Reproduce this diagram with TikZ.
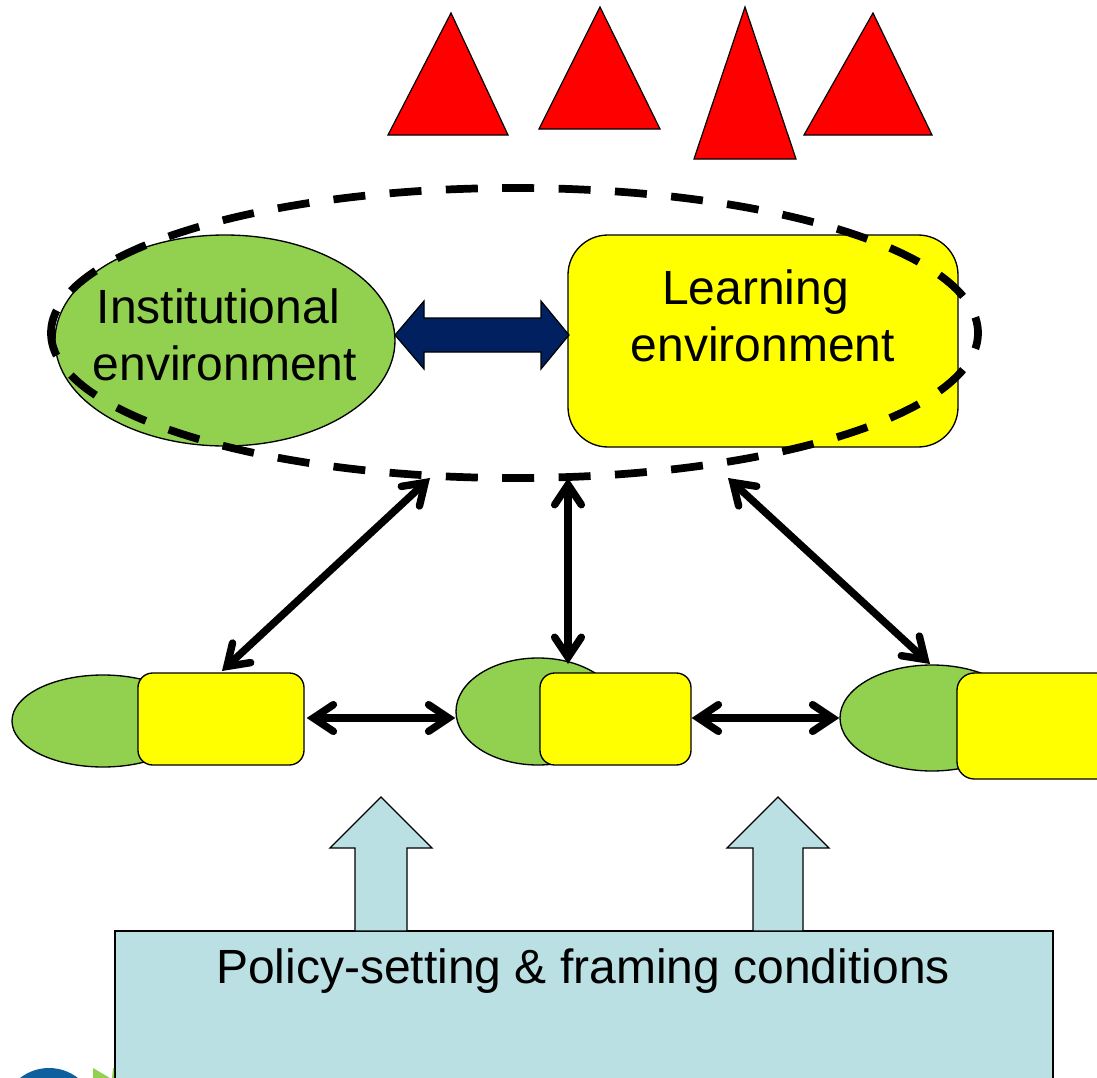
\documentclass[tikz,border=0pt]{standalone}
\usepackage{fontspec}
\setmainfont{Liberation Sans}
\usetikzlibrary{arrows.meta,shapes.geometric}
\definecolor{leaf}{HTML}{92D050}
\definecolor{sun}{HTML}{FFFF00}
\definecolor{navy}{HTML}{002060}
\definecolor{pale}{HTML}{BBE0E3}
\definecolor{globe}{HTML}{0F5F9F}
\def\px{0.75pt}
\tikzset{
  oval/.style={ellipse,draw=black,line width=1pt,fill=leaf,inner sep=0pt},
  panel/.style={rectangle,draw=black,line width=1pt,fill=sun,inner sep=0pt},
  peak/.style={draw=black,line width=0.9pt,fill=red,line join=miter},
  label/.style={inner sep=0pt,align=center,font=\fontsize{36}{42.75}\selectfont},
  link/.style={line width=5.6pt,line join=miter,{Straight Barb[length=15pt,width=20pt,line cap=round]}-{Straight Barb[length=15pt,width=20pt,line cap=round]}},
  ringline/.style={line width=5.8pt,dash pattern=on 24pt off 18.3pt,dash phase=12pt},
  up/.style={draw=black,line width=1pt,fill=pale,line join=miter}
}
\begin{document}
\begin{tikzpicture}[x=0.75pt,y=-0.75pt]
\useasboundingbox (0,0) rectangle (1097,1078);
\clip (0,0) rectangle (1097,1078);
% triangles
\draw[peak] (451,13) -- (388,135) -- (508,135) -- cycle;
\draw[peak] (600,7) -- (539,129) -- (660,129) -- cycle;
\draw[peak] (745,7) -- (694,159) -- (796,159) -- cycle;
\draw[peak] (873,13) -- (804,135) -- (932,135) -- cycle;
% main shapes
\node[oval,minimum width=340*\px,minimum height=211*\px] (inst) at (225,340.5) {};
\node[panel,rounded corners=30pt,minimum width=390*\px,minimum height=212*\px] (learn) at (763,341) {};
\node[label] (instt) at (225,335) {Institutional\hspace*{10pt}\\environment};
\node[label] (learnt) at (763,315.5) {Learning\hspace*{11pt}\\environment};
% double block arrow
\coordinate (bw) at (395,335);
\coordinate (be) at (569,335);
\draw[draw=black,line width=0.9pt,fill=navy,line join=miter] (bw) -- ++(29,-34) -- ++(0,17) -- ++(117,0) -- ++(0,-17) -- (be) -- ++(-28,34) -- ++(0,-17) -- ++(-117,0) -- ++(0,17) -- cycle;
\coordinate (ringe) at (978,333);
\coordinate (aL) at (430,478);
\coordinate (aM) at (568,478);
\coordinate (aR) at (728,478);
% small clusters
\node[oval,minimum width=182*\px,minimum height=92*\px] (e1) at (103,721) {};
\node[panel,rounded corners=11pt,minimum width=166*\px,minimum height=92*\px] (r1) at (221,719) {};
\node[oval,minimum width=164*\px,minimum height=107*\px] (e2) at (538,711.5) {};
\node[panel,rounded corners=11pt,minimum width=151*\px,minimum height=92*\px] (r2) at (615.5,719) {};
\node[oval,minimum width=184*\px,minimum height=106*\px] (e3) at (932,718) {};
\node[panel,rounded corners=13pt,minimum width=160*\px,minimum height=106*\px] (r3) at (1037,726) {};
% ring: two halves from the right-hand point, meeting on the left
\draw[ringline] (ringe) arc[start angle=0,end angle=180,x radius=463.5,y radius=145];
\draw[ringline] (ringe) arc[start angle=0,end angle=-180,x radius=463.5,y radius=145];
% connectors
\coordinate (t1) at (222,671);
\coordinate (t2) at (568,664);
\coordinate (t3) at (930,664);
\draw[link] (aL) -- (t1);
\draw[link] (aM) -- (t2);
\draw[link] (aR) -- (t3);
\draw[link] ([xshift=1.5pt,yshift=.75pt]r1.east) -- ([yshift=.75pt]e2.west |- r1.east);
\draw[link] ([yshift=.75pt]r2.east) -- ([yshift=.75pt]e3.west |- r2.east);
% policy box and up arrows
\node[rectangle,draw=black,line width=1.3pt,fill=pale,inner sep=0pt,minimum width=938*\px,minimum height=200*\px] (policy) at (584,1031) {};
\node[label] (policyt) at (583,971) {\raisebox{-3pt}{Policy-setting \& framing conditions}};
\draw[up] (355,931) -- (355,848) -- (330,848) -- (381,797) -- (432,848) -- (407,848) -- (407,931) -- cycle;
\draw[up] (753,931) -- (753,848) -- (727,848) -- (778,797) -- (829,848) -- (803,848) -- (803,931) -- cycle;
% logo fragment
\fill[globe] (49,1115) circle[radius=47];
\fill[leaf] (93,1068) -- (110,1078) -- (93,1078) -- cycle;
\fill[leaf] (113,1068) -- (114,1068) -- (114,1078) -- (112,1078) -- cycle;
\end{tikzpicture}
\end{document}
